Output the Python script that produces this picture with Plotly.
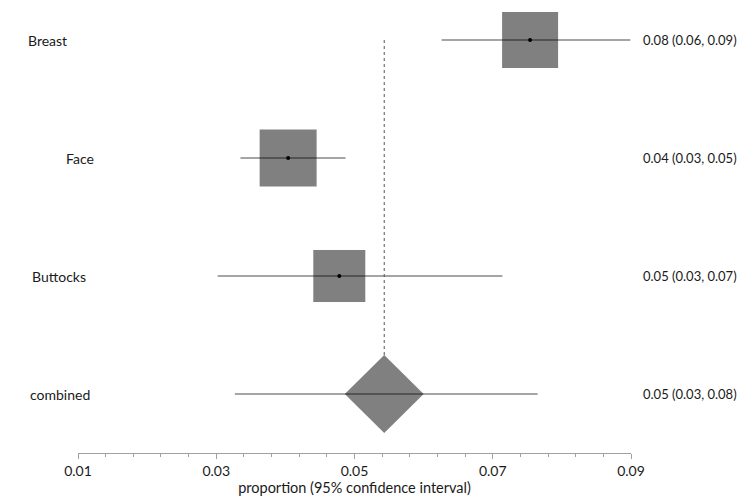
import plotly.graph_objects as go

# ---- data ----
studies = ["Breast", "Face", "Buttocks"]
est = [0.0754, 0.0404, 0.0478]
low = [0.0626, 0.0335, 0.0302]
high = [0.0899, 0.0487, 0.0714]
weights = [56, 57, 52]          # relative box size (px)

pooled_label = "combined"
pooled_est = 0.0543
pooled_low = 0.0327
pooled_high = 0.0765
pooled_diamond_low = 0.0486
pooled_diamond_high = 0.0600

tick_vals = [0.01, 0.03, 0.05, 0.07, 0.09]
x_title = "proportion (95% confidence interval)"

# row positions (top to bottom)
rows = [4, 3, 2]
pooled_row = 1
diamond_half_h = 0.33

FONT = "Lato"
GRAY_LINE = "rgba(0,0,0,0.47)"

fig = go.Figure()

# boxes
fig.add_trace(go.Scatter(
    x=est, y=rows, mode="markers",
    marker=dict(symbol="square", size=weights, color="#808080", opacity=1,
                line=dict(width=0)),
    hoverinfo="skip", showlegend=False))

# diamond for pooled estimate
fig.add_trace(go.Scatter(
    x=[pooled_diamond_low, pooled_est, pooled_diamond_high, pooled_est, pooled_diamond_low],
    y=[pooled_row, pooled_row + diamond_half_h, pooled_row, pooled_row - diamond_half_h, pooled_row],
    mode="lines", fill="toself", fillcolor="#808080",
    line=dict(width=0, color="#808080"),
    hoverinfo="skip", showlegend=False))

# CI lines
for lo, hi, r in zip(low + [pooled_low], high + [pooled_high], rows + [pooled_row]):
    fig.add_trace(go.Scatter(
        x=[lo, hi], y=[r, r], mode="lines",
        line=dict(color=GRAY_LINE, width=1.5),
        hoverinfo="skip", showlegend=False))

# center dots
fig.add_trace(go.Scatter(
    x=est, y=rows, mode="markers",
    marker=dict(symbol="circle", size=4, color="black"),
    hoverinfo="skip", showlegend=False))

# dotted reference line at pooled estimate
fig.add_trace(go.Scatter(
    x=[pooled_est, pooled_est], y=[rows[0], pooled_row + diamond_half_h],
    mode="lines", line=dict(color="#555555", width=1, dash="dot"),
    hoverinfo="skip", showlegend=False))

# labels
left_x = [-0.094, -0.025, -0.087, -0.09]
all_labels = studies + [pooled_label]
all_rows = rows + [pooled_row]
all_est = est + [pooled_est]
all_low = low + [pooled_low]
all_high = high + [pooled_high]
for lab, r, lx in zip(all_labels, all_rows, left_x):
    fig.add_annotation(x=lx, xref="paper", y=r, yref="y", text=lab,
                       showarrow=False, xanchor="left",
                       font=dict(family=FONT, size=14, color="#1a1a1a"))
for e, lo, hi, r in zip(all_est, all_low, all_high, all_rows):
    fig.add_annotation(x=tick_vals[-1], xref="x", xshift=10, y=r, yref="y",
                       text=f"{e:.2f} ({lo:.2f}, {hi:.2f})",
                       showarrow=False, xanchor="left",
                       font=dict(family=FONT, size=13, color="#1a1a1a"))

fig.update_layout(
    width=750, height=498,
    margin=dict(l=78, r=119, t=0, b=45),
    plot_bgcolor="white", paper_bgcolor="white",
    font=dict(family=FONT, size=14, color="#1a1a1a"),
    xaxis=dict(range=[tick_vals[0], tick_vals[-1]], tickvals=tick_vals,
               tickformat=".2f", showgrid=False, zeroline=False,
               showline=True, linecolor="#a0a0a0", linewidth=1,
               ticks="outside", ticklen=5, tickcolor="#a0a0a0",
               tickfont=dict(family=FONT, size=14, color="#1a1a1a"),
               minor=dict(dtick=0.004, tick0=0.01, ticks="outside", ticklen=3,
                          tickcolor="#a0a0a0", showgrid=False),
               title=dict(text=x_title, standoff=2,
                          font=dict(family=FONT, size=14.5, color="#1a1a1a")),
               fixedrange=True),
    yaxis=dict(range=[0.5, 4.339], visible=False, fixedrange=True),
)

fig.write_html("out.html")
